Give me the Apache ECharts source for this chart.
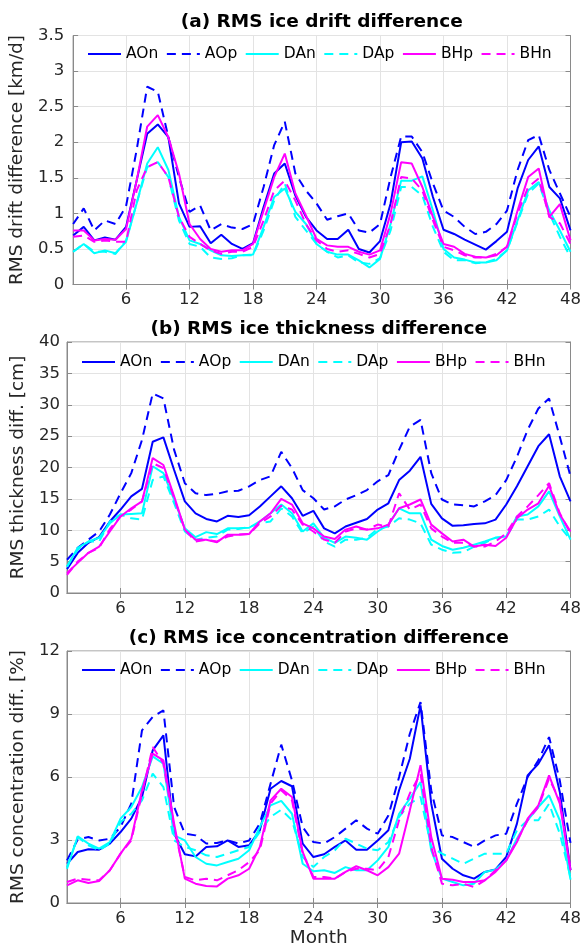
<!DOCTYPE html>
<html><head><meta charset="utf-8">
<script src="https://cdn.jsdelivr.net/npm/echarts@6/dist/echarts.min.js"></script>
<style>html,body{margin:0;padding:0;background:#fff}#c{width:584px;height:949px}</style>
</head><body><div id="c"></div>
<script>
// ---------------- data ----------------
const months = [1,2,3,4,5,6,7,8,9,10,11,12,13,14,15,16,17,18,19,20,21,22,23,24,
                25,26,27,28,29,30,31,32,33,34,35,36,37,38,39,40,41,42,43,44,45,46,47,48];
const xTickMonths = [6,12,18,24,30,36,42,48];
const seriesNames = ['AOn','AOp','DAn','DAp','BHp','BHn'];

// (a) RMS ice drift difference [km/d]
const a_AOn = [0.69,0.81,0.62,0.66,0.63,0.81,1.46,2.12,2.25,2.07,1.14,0.81,0.82,0.58,0.70,0.57,0.50,0.58,1.09,1.56,1.70,1.25,0.95,0.76,
               0.64,0.64,0.77,0.50,0.45,0.61,1.14,2.00,2.01,1.77,1.23,0.77,0.71,0.63,0.56,0.49,0.61,0.74,1.35,1.75,1.94,1.37,1.21,0.76];
const a_AOp = [0.85,1.07,0.76,0.90,0.85,1.10,1.89,2.78,2.71,2.07,1.51,1.02,1.11,0.76,0.85,0.80,0.78,0.85,1.37,1.96,2.29,1.56,1.32,1.14,
               0.91,0.96,1.00,0.76,0.73,0.85,1.51,2.08,2.08,1.86,1.42,1.04,0.95,0.81,0.71,0.74,0.85,1.04,1.61,2.03,2.10,1.61,1.28,0.95];
const a_DAn = [0.46,0.57,0.44,0.48,0.44,0.60,1.14,1.70,1.93,1.61,0.95,0.62,0.57,0.48,0.41,0.40,0.41,0.42,0.81,1.23,1.35,1.02,0.85,0.57,
               0.46,0.42,0.42,0.34,0.24,0.36,0.85,1.46,1.46,1.52,1.04,0.50,0.38,0.35,0.31,0.31,0.34,0.48,0.90,1.32,1.44,1.04,0.76,0.46];
const a_DAp = [0.46,0.57,0.46,0.46,0.43,0.62,1.14,1.65,1.72,1.51,0.90,0.57,0.53,0.38,0.36,0.37,0.41,0.41,0.76,1.18,1.42,0.95,0.76,0.57,
               0.46,0.38,0.41,0.31,0.29,0.37,0.76,1.37,1.37,1.25,0.81,0.46,0.34,0.34,0.30,0.31,0.36,0.48,0.88,1.28,1.42,1.00,0.67,0.38];
const a_BHp = [0.76,0.76,0.62,0.64,0.63,0.78,1.46,2.22,2.38,2.07,1.56,0.85,0.64,0.50,0.46,0.48,0.48,0.57,1.04,1.51,1.84,1.28,0.97,0.64,
               0.55,0.53,0.53,0.46,0.42,0.48,1.00,1.72,1.70,1.37,0.95,0.57,0.53,0.43,0.39,0.38,0.41,0.53,1.04,1.51,1.63,0.95,1.13,0.62];
const a_BHn = [0.67,0.69,0.60,0.62,0.60,0.60,1.32,1.65,1.72,1.51,0.95,0.67,0.57,0.48,0.43,0.46,0.46,0.53,0.90,1.32,1.46,1.18,0.85,0.62,
               0.50,0.46,0.48,0.43,0.38,0.43,0.85,1.51,1.49,1.32,0.90,0.53,0.48,0.41,0.38,0.38,0.43,0.53,1.00,1.37,1.49,0.95,0.86,0.57];

// (b) RMS ice thickness difference [cm]
const b_AOn = [3.8,6.4,8.0,8.9,11.4,13.3,15.4,16.6,24.1,24.8,19.6,14.6,12.7,11.8,11.4,12.3,12.1,12.4,13.8,15.4,17.0,15.1,12.3,13.1,
               10.3,9.5,10.6,11.2,11.8,13.3,14.3,18.0,19.5,21.7,14.2,11.9,10.7,10.8,11.0,11.1,11.7,14.1,17.0,20.2,23.4,25.3,18.6,14.6];
const b_AOp = [5.3,7.2,8.5,9.8,12.5,15.9,19.1,24.4,31.8,31.0,22.8,17.5,15.9,15.6,15.8,16.2,16.3,17.0,18.0,18.6,22.5,19.9,16.4,15.1,
               13.3,13.8,14.9,15.6,16.4,17.8,18.8,22.8,26.5,27.6,19.1,14.9,14.1,14.0,13.8,14.6,15.6,18.0,21.7,26.0,29.4,31.0,24.9,18.6];
const b_DAn = [4.2,7.2,8.2,8.8,11.1,12.5,12.6,12.7,20.2,19.1,14.9,10.3,8.9,9.7,9.4,10.3,10.3,10.4,11.4,12.7,14.1,12.7,9.8,11.1,
               8.8,8.0,9.0,8.8,8.5,9.8,10.9,13.5,12.7,12.7,8.5,7.5,6.9,7.2,7.7,8.2,8.8,9.0,12.2,12.5,13.8,16.2,12.2,8.5];
const b_DAp = [4.2,6.9,8.2,8.2,11.4,12.5,11.9,11.7,18.0,18.6,14.3,9.8,8.5,8.8,9.0,10.1,10.2,10.5,11.1,11.4,13.5,12.2,9.5,10.6,
               8.2,7.4,8.5,8.5,8.8,10.2,10.6,11.9,11.7,11.1,7.7,6.9,6.4,6.5,7.4,8.0,8.8,9.0,11.7,11.7,12.2,13.3,10.6,8.5];
const b_BHp = [3.2,4.8,6.4,7.4,9.8,12.2,13.5,14.6,21.5,20.4,15.4,10.1,8.5,8.5,8.1,9.3,9.3,9.4,11.4,12.7,15.0,14.1,11.1,10.3,
               9.0,8.6,10.1,10.6,10.1,10.3,10.9,13.5,14.1,14.9,10.9,9.5,8.2,8.5,7.4,7.7,7.5,8.8,11.9,13.3,14.3,17.1,12.5,9.8];
const b_BHn = [2.9,5.0,6.4,7.2,10.2,12.2,13.3,14.6,20.7,19.9,15.1,10.1,8.2,8.5,8.2,9.0,9.3,9.4,11.1,12.2,13.9,13.3,10.9,9.8,
               8.5,8.0,9.8,10.3,10.1,10.9,10.6,15.9,13.3,14.1,10.3,9.0,8.0,8.0,7.4,7.4,8.2,9.5,12.2,13.8,15.6,17.5,12.7,9.5];

// (c) RMS ice concentration difference [%]
const c_AOn = [1.87,2.43,2.56,2.54,2.83,3.38,4.02,5.05,7.27,7.98,3.30,2.32,2.22,2.67,2.70,2.98,2.67,2.75,3.46,5.44,5.81,5.56,2.83,2.19,
               2.32,2.67,2.98,2.54,2.54,2.98,3.46,5.37,6.87,9.41,4.73,2.11,1.63,1.32,1.16,1.48,1.60,2.19,3.78,6.08,6.63,7.51,5.29,1.56];
const c_AOp = [2.03,3.02,3.14,2.98,3.06,3.62,4.73,8.22,8.86,9.17,4.57,3.30,3.22,2.83,2.86,2.98,2.83,2.98,3.78,5.68,7.54,5.84,3.62,2.90,
               2.83,3.14,3.54,3.94,3.54,3.30,4.17,6.00,8.06,9.57,5.37,3.22,3.14,2.90,2.67,2.98,3.22,3.30,4.73,6.00,6.79,7.90,5.84,2.86];
const c_DAn = [1.63,3.17,2.83,2.59,2.90,4.02,4.57,5.52,6.98,6.63,3.22,2.98,2.19,1.87,1.79,1.95,2.11,2.51,3.62,4.65,4.86,4.25,1.87,1.51,
               1.56,1.43,1.71,1.56,1.56,2.03,2.67,4.25,4.97,5.76,2.51,1.16,1.00,0.84,0.92,1.48,1.59,2.03,3.06,3.94,4.57,5.13,3.94,1.11];
const c_DAp = [1.71,3.14,2.75,2.51,2.83,3.86,4.25,4.89,6.16,5.52,2.98,2.67,2.51,2.27,2.19,2.35,2.51,2.67,3.38,4.10,4.44,3.94,2.19,1.71,
               2.19,2.51,3.06,2.83,2.59,2.51,2.90,4.10,4.73,5.05,2.67,2.35,2.11,1.87,2.11,2.35,2.35,2.35,3.46,3.94,3.94,4.73,3.30,1.24];
const c_BHp = [0.84,1.08,0.95,1.05,1.56,2.35,3.06,5.37,7.11,6.79,3.78,1.16,0.92,0.81,0.79,1.16,1.32,1.63,2.67,4.89,5.44,5.05,2.43,1.16,
               1.16,1.16,1.48,1.75,1.56,1.32,1.71,2.35,4.41,6.56,3.14,1.16,1.11,1.00,1.00,1.08,1.48,2.03,2.90,4.02,4.65,6.08,4.73,1.56];
const c_BHn = [1.00,1.16,1.11,1.08,1.56,2.35,2.98,5.21,7.43,6.63,3.62,1.24,1.08,1.16,1.08,1.32,1.56,1.95,2.51,4.73,5.37,4.89,2.35,1.24,
               1.24,1.16,1.48,1.63,1.63,1.56,2.19,3.94,5.21,6.16,2.67,0.92,0.84,0.92,0.76,1.08,1.56,2.03,2.98,3.94,4.57,5.92,4.89,1.63];

// ---------------- styling / layout ----------------
const FONT = 'DejaVu Sans';
const axisC = '#8a8a8a', gridC = '#e3e3e3', textC = '#262626';
const styles = [
  {color:'#0000ff', type:'solid'},
  {color:'#0000ff', type:[9,6]},
  {color:'#00ffff', type:'solid'},
  {color:'#00ffff', type:[9,6]},
  {color:'#ff00ff', type:'solid'},
  {color:'#ff00ff', type:[9,6]}
];
const panels = [
  {title:'(a) RMS ice drift difference', yName:'RMS drift difference [km/d]', max:3.5, interval:0.5,
   data:[a_AOn,a_AOp,a_DAn,a_DAp,a_BHp,a_BHn], left:73, top:35.5, height:249, nameGap:38, lblMargin:9,
   titleY:22.5, legendLeft:87, legendTop:46},
  {title:'(b) RMS ice thickness difference', yName:'RMS thickness diff. [cm]', max:40, interval:5,
   data:[b_AOn,b_AOp,b_DAn,b_DAp,b_BHp,b_BHn], left:67, top:342, height:251, nameGap:32, lblMargin:7,
   titleY:329, legendLeft:81, legendTop:354},
  {title:'(c) RMS ice concentration difference', yName:'RMS concentration diff. [%]', max:12, interval:3,
   data:[c_AOn,c_AOp,c_DAn,c_DAp,c_BHp,c_BHn], left:67, top:651, height:252, nameGap:32, lblMargin:7,
   titleY:638, legendLeft:81, legendTop:662}
];
const RIGHT = 13.5;
const isTick = (idx, val) => xTickMonths.indexOf(Number(val)) >= 0;

const grid = [], xAxis = [], yAxis = [], series = [], legend = [], graphic = [];
panels.forEach((p, i) => {
  grid.push({left:p.left, right:RIGHT, top:p.top, height:p.height, show:true, borderColor:axisC, borderWidth:1, backgroundColor:'transparent'});
  xAxis.push({
    type:'category', gridIndex:i, data:months, boundaryGap:false, position:'bottom',
    axisLine:{show:true, lineStyle:{color:axisC, width:1}},
    axisTick:{show:true, inside:true, length:5, interval:isTick, lineStyle:{color:axisC}},
    axisLabel:{show:true, interval:isTick, color:textC, fontFamily:FONT, fontSize:16.5, margin:7},
    splitLine:{show:true, interval:isTick, lineStyle:{color:gridC, width:1}},
    name: i === 2 ? 'Month' : '', nameLocation:'middle', nameGap:26,
    nameTextStyle:{color:textC, fontFamily:FONT, fontSize:18.5}
  });
  xAxis.push({
    type:'category', gridIndex:i, data:months, boundaryGap:false, position:'top',
    axisLine:{show:true, lineStyle:{color:axisC, width:1}},
    axisTick:{show:true, inside:true, length:5, interval:isTick, lineStyle:{color:axisC}},
    axisLabel:{show:false}, splitLine:{show:false}
  });
  yAxis.push({
    type:'value', gridIndex:i, min:0, max:p.max, interval:p.interval, position:'left',
    axisLine:{show:true, lineStyle:{color:axisC, width:1}},
    axisTick:{show:true, inside:true, length:5, lineStyle:{color:axisC}},
    axisLabel:{color:textC, fontFamily:FONT, fontSize:16.5, margin:p.lblMargin},
    splitLine:{show:true, lineStyle:{color:gridC, width:1}},
    name:p.yName, nameLocation:'middle', nameRotate:90, nameGap:p.nameGap,
    nameTextStyle:{color:textC, fontFamily:FONT, fontSize:18.5}
  });
  yAxis.push({
    type:'value', gridIndex:i, min:0, max:p.max, interval:p.interval, position:'right',
    axisLine:{show:true, lineStyle:{color:axisC, width:1}},
    axisTick:{show:true, inside:true, length:5, lineStyle:{color:axisC}},
    axisLabel:{show:false}, splitLine:{show:false}
  });
  seriesNames.forEach((nm, k) => {
    series.push({
      type:'line', name:nm, xAxisIndex:2*i, yAxisIndex:2*i, data:p.data[k],
      symbol:'none', showSymbol:false, smooth:false,
      lineStyle:{color:styles[k].color, width:2, type:styles[k].type},
      itemStyle:{color:styles[k].color},
      emphasis:{disabled:true}, z:2+k
    });
  });
  legend.push({
    data:seriesNames, left:p.legendLeft, top:p.legendTop, padding:0,
    itemWidth:33, itemHeight:14, itemGap:7.5, orient:'horizontal',
    itemStyle:{opacity:0},
    textStyle:{color:'#000', fontFamily:FONT, fontSize:15.5},
    selectedMode:false
  });
  graphic.push({
    type:'text', x:(p.left + 584 - RIGHT)/2, y:p.titleY, z:100,
    style:{text:p.title, fill:'#000', font:'bold 18.5px "DejaVu Sans"', align:'center', verticalAlign:'middle'}
  });
});

const chart = echarts.init(document.getElementById('c'), null, {renderer:'canvas'});
chart.setOption({
  backgroundColor:'#ffffff', animation:false,
  textStyle:{fontFamily:FONT},
  grid, xAxis, yAxis, series, legend, graphic
});
</script>
</body></html>
